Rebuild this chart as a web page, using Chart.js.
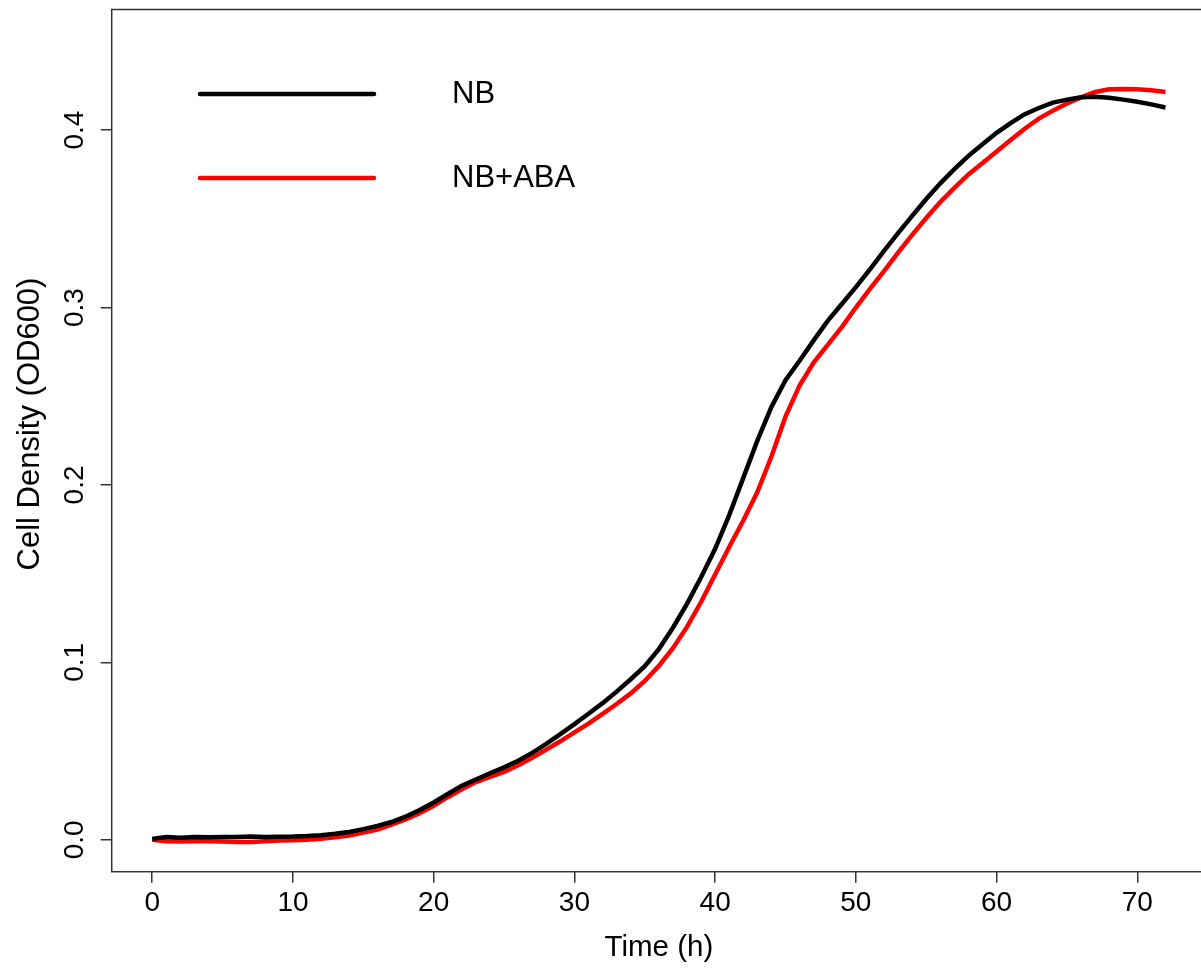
<!DOCTYPE html>
<html>
<head>
<meta charset="utf-8">
<title>Cell density over time</title>
<script src="https://cdn.jsdelivr.net/npm/chart.js@4/dist/chart.umd.min.js"></script>
<style>
  html, body { margin: 0; padding: 0; background: #fff; overflow: hidden; }
  #wrap { width: 1207px; height: 968px; }
</style>
</head>
<body>
<div id="wrap"><canvas id="growthChart"></canvas></div>
<script>
// hourly readings, 0 to 72 h
const hours = [];
for (let h = 0; h <= 72; h++) hours.push(h);

const nbOD = [
  0.0005, 0.0015, 0.0012, 0.0015, 0.0014, 0.0015, 0.0016, 0.0019, 0.0016, 0.0017,
  0.0018, 0.0021, 0.0026, 0.0034, 0.0044, 0.0060, 0.0078, 0.0100, 0.0130, 0.0168,
  0.0210, 0.0258, 0.0305, 0.0340, 0.0375, 0.0408, 0.0445, 0.0490, 0.0540, 0.0595,
  0.0652, 0.0710, 0.0770, 0.0835, 0.0905, 0.0978, 0.1075, 0.1195, 0.1330, 0.1480,
  0.1640, 0.1830, 0.2040, 0.2250, 0.2440, 0.2590, 0.2700, 0.2815, 0.2925, 0.3020,
  0.3115, 0.3215, 0.3320, 0.3420, 0.3517, 0.3612, 0.3700, 0.3780, 0.3855, 0.3920,
  0.3985, 0.4040, 0.4090, 0.4125, 0.4155, 0.4172, 0.4185, 0.4188, 0.4183, 0.4172,
  0.4160, 0.4145, 0.4128
];

const abaOD = [
  0.0000, -0.0008, -0.0010, -0.0008, -0.0008, -0.0010, -0.0013, -0.0012, -0.0008, -0.0004,
  -0.0003, 0.0000, 0.0006, 0.0014, 0.0024, 0.0040, 0.0058, 0.0085, 0.0115, 0.0150,
  0.0192, 0.0240, 0.0285, 0.0325, 0.0355, 0.0382, 0.0420, 0.0462, 0.0508, 0.0555,
  0.0605, 0.0655, 0.0710, 0.0765, 0.0825, 0.0895, 0.0980, 0.1080, 0.1200, 0.1340,
  0.1495, 0.1650, 0.1800, 0.1960, 0.2160, 0.2385, 0.2560, 0.2690, 0.2790, 0.2890,
  0.3000, 0.3105, 0.3205, 0.3310, 0.3410, 0.3505, 0.3595, 0.3675, 0.3750, 0.3815,
  0.3880, 0.3945, 0.4008, 0.4065, 0.4110, 0.4150, 0.4185, 0.4215, 0.4230, 0.4232,
  0.4230, 0.4225, 0.4215
];

const seriesNames = ["NB", "NB+ABA"];
const seriesColors = ["#000000", "#ff0000"];
const xTicks = [0, 10, 20, 30, 40, 50, 60, 70];
const yTicks = [0, 0.1, 0.2, 0.3, 0.4];

const FONT = "'Liberation Sans', Arial, Helvetica, sans-serif";
const AXIS_COLOR = "#333333";

function toPoints(ys) {
  return hours.map((h, i) => ({ x: h, y: ys[i] }));
}

// box around the plot region, like a base R plot
const frame = {
  id: "frame",
  afterDraw(chart) {
    const { ctx, chartArea: a } = chart;
    ctx.save();
    ctx.strokeStyle = AXIS_COLOR;
    ctx.lineWidth = 1.5;
    ctx.strokeRect(a.left, a.top, a.right - a.left, a.bottom - a.top);
    ctx.restore();
  }
};

// y tick labels and the y title are written sideways
const sideLabels = {
  id: "sideLabels",
  afterDraw(chart) {
    const { ctx } = chart;
    const y = chart.scales.y;
    ctx.save();
    ctx.fillStyle = "#000";
    ctx.textAlign = "center";
    ctx.textBaseline = "middle";
    ctx.font = "28px " + FONT;
    yTicks.forEach(v => {
      ctx.save();
      ctx.translate(75, y.getPixelForValue(v));
      ctx.rotate(-Math.PI / 2);
      ctx.fillText(v.toFixed(1), 0, 0);
      ctx.restore();
    });
    ctx.font = "31px " + FONT;
    ctx.translate(30, 424);
    ctx.rotate(-Math.PI / 2);
    ctx.fillText("Cell Density (OD600)", 0, 0);
    ctx.restore();
  }
};

// line legend in the upper left corner
const lineLegend = {
  id: "lineLegend",
  afterDraw(chart) {
    const { ctx } = chart;
    ctx.save();
    ctx.font = "31px " + FONT;
    ctx.textBaseline = "middle";
    ctx.textAlign = "left";
    chart.data.datasets.forEach((ds, i) => {
      const yy = 94 + i * 84;
      ctx.strokeStyle = ds.borderColor;
      ctx.lineWidth = 4.5;
      ctx.lineCap = "round";
      ctx.beginPath();
      ctx.moveTo(200, yy);
      ctx.lineTo(374, yy);
      ctx.stroke();
      ctx.fillStyle = "#000";
      ctx.fillText(ds.label, 452, yy);
    });
    ctx.restore();
  }
};

new Chart(document.getElementById("growthChart").getContext("2d"), {
  type: "line",
  data: {
    datasets: [
      {
        label: seriesNames[0],
        data: toPoints(nbOD),
        borderColor: seriesColors[0],
        borderWidth: 4.5,
        pointRadius: 0,
        tension: 0,
        fill: false
      },
      {
        label: seriesNames[1],
        data: toPoints(abaOD),
        borderColor: seriesColors[1],
        borderWidth: 4.5,
        pointRadius: 0,
        tension: 0,
        fill: false
      }
    ]
  },
  options: {
    responsive: true,
    maintainAspectRatio: false,
    animation: false,
    layout: { padding: { top: 9.5, right: 1, left: 0, bottom: 0 } },
    plugins: {
      legend: { display: false },
      tooltip: { enabled: false }
    },
    scales: {
      x: {
        type: "linear",
        min: -2.88,
        max: 74.88,
        afterBuildTicks: s => { s.ticks = xTicks.map(v => ({ value: v })); },
        afterFit: s => { s.height = 96.3; },
        border: { display: false },
        grid: {
          drawOnChartArea: false,
          drawTicks: true,
          tickLength: 11,
          tickColor: AXIS_COLOR,
          lineWidth: 1.5
        },
        ticks: {
          color: "#000",
          font: { family: FONT, size: 28 },
          padding: 4,
          maxRotation: 0
        },
        title: {
          display: true,
          text: "Time (h)",
          color: "#000",
          font: { family: FONT, size: 29.5 },
          padding: { top: 0, bottom: 2 }
        }
      },
      y: {
        type: "linear",
        min: -0.018,
        max: 0.468,
        afterBuildTicks: s => { s.ticks = yTicks.map(v => ({ value: v })); },
        afterFit: s => { s.width = 111.7; },
        border: { display: false },
        grid: {
          drawOnChartArea: false,
          drawTicks: true,
          tickLength: 11,
          tickColor: AXIS_COLOR,
          lineWidth: 1.5
        },
        ticks: { display: false },
        title: { display: false }
      }
    }
  },
  plugins: [frame, sideLabels, lineLegend]
});
</script>
</body>
</html>
